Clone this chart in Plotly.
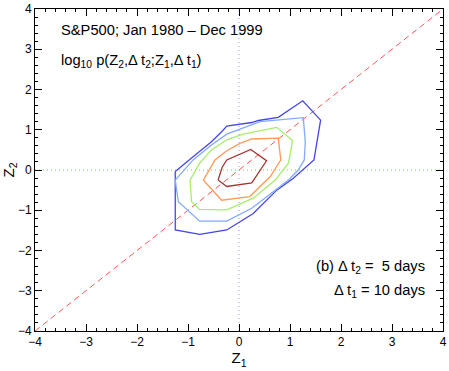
import plotly.graph_objects as go

# contour levels of log10 p(Z2, dt2; Z1, dt1) (outer -> inner)
LEVEL_COLORS = ["#4646e6", "#82aaff", "#a6ee6a", "#ff9a5a", "#a83232"]

LEVEL_X = [
    [-1.25, -1.25, -0.77, -0.24, 0.28, 0.74, 1.06, 1.26, 1.47, 1.60, 1.25, 0.77, 0.38, 0.25, -0.24, -0.34, -0.54, -0.90, -1.25],
    [-1.25, -1.19, -0.77, -0.24, 0.25, 0.67, 0.97, 1.16, 1.28, 1.30, 1.26, 0.41, -0.24, -0.54, -0.90, -1.25],
    [-0.96, -0.93, -0.77, -0.24, 0.28, 0.71, 0.97, 1.05, 0.74, 0.54, 0.08, -0.24, -0.54, -0.77, -0.96],
    [-0.70, -0.34, 0.21, 0.61, 0.82, 0.77, 0.25, 0.02, -0.24, -0.47, -0.70],
    [-0.41, -0.24, 0.25, 0.54, 0.23, -0.24, -0.33, -0.41],
]
LEVEL_Y = [
    [-0.04, -1.49, -1.60, -1.49, -1.08, -0.50, -0.21, 0.02, 0.25, 1.24, 1.72, 1.31, 1.23, 1.18, 1.09, 0.95, 0.70, 0.33, -0.04],
    [-0.25, -0.79, -1.27, -1.27, -0.95, -0.54, -0.25, 0.00, 0.25, 0.70, 1.30, 1.20, 0.89, 0.62, 0.25, -0.25],
    [-0.25, -0.79, -0.98, -0.99, -0.70, -0.25, 0.17, 0.73, 1.06, 1.01, 0.89, 0.75, 0.50, 0.17, -0.25],
    [-0.25, -0.75, -0.66, -0.17, 0.25, 0.79, 0.77, 0.66, 0.48, 0.25, -0.25],
    [-0.25, -0.41, -0.32, 0.23, 0.51, 0.25, 0.07, -0.25],
]

AXIS_RANGE = [-4, 4]
TICKS = [-4, -3, -2, -1, 0, 1, 2, 3, 4]

fig = go.Figure()

# reference lines
fig.add_trace(go.Scatter(x=AXIS_RANGE, y=AXIS_RANGE, mode="lines",
                         line=dict(color="#ff5555", width=1, dash="6px,4px")))
fig.add_trace(go.Scatter(x=[0, 0], y=AXIS_RANGE, mode="lines",
                         line=dict(color="#9a9aff", width=1, dash="1px,3px")))
fig.add_trace(go.Scatter(x=AXIS_RANGE, y=[0, 0], mode="lines",
                         line=dict(color="#7ccc5a", width=1, dash="1px,3px")))

for xs, ys, c in zip(LEVEL_X, LEVEL_Y, LEVEL_COLORS):
    fig.add_trace(go.Scatter(x=xs, y=ys, mode="lines", line=dict(color=c, width=1.3)))

axis_style = dict(
    range=AXIS_RANGE, tickvals=TICKS, ticktext=[str(t).replace("-", "\u2212") for t in TICKS],
    showgrid=False, zeroline=False, showline=True, linecolor="black", linewidth=1,
    mirror="ticks", ticks="inside", ticklen=7, tickcolor="black",
    minor=dict(dtick=0.2, ticks="inside", ticklen=3, tickcolor="black"),
    tickfont=dict(size=12, color="black"), automargin=False,
)

fig.update_layout(
    width=449, height=371,
    margin=dict(l=35, r=6, t=9, b=40),
    paper_bgcolor="white", plot_bgcolor="white",
    showlegend=False,
    font=dict(family="Liberation Sans, Arial, sans-serif", color="black"),
    xaxis=dict(axis_style, title=dict(text="Z<sub>1</sub>", font=dict(size=15), standoff=0)),
    yaxis=dict(axis_style, title=dict(text="Z<sub>2</sub>", font=dict(size=15), standoff=2)),
)

fig.add_annotation(x=-3.52, y=3.48, xref="x", yref="y", xanchor="left", showarrow=False,
                   text="S&P500; Jan 1980 \u2013 Dec 1999", font=dict(size=14.7))
fig.add_annotation(x=-3.52, y=2.72, xref="x", yref="y", xanchor="left", showarrow=False,
                   text="log<sub>10</sub> p(Z<sub>2</sub>,\u0394 t<sub>2</sub>;Z<sub>1</sub>,\u0394 t<sub>1</sub>)",
                   font=dict(size=14.7))
fig.add_annotation(x=3.68, y=-2.42, xref="x", yref="y", xanchor="right", showarrow=False,
                   text="(b) \u0394 t<sub>2</sub> =  5 days", font=dict(size=14.7))
fig.add_annotation(x=3.68, y=-3.0, xref="x", yref="y", xanchor="right", showarrow=False,
                   text="\u0394 t<sub>1</sub> = 10 days", font=dict(size=14.7))

# drop the browser's default page margin so the figure fills the window
fig.write_html("out.html", config={"displayModeBar": False},
               post_script="document.body.style.margin='0';")
